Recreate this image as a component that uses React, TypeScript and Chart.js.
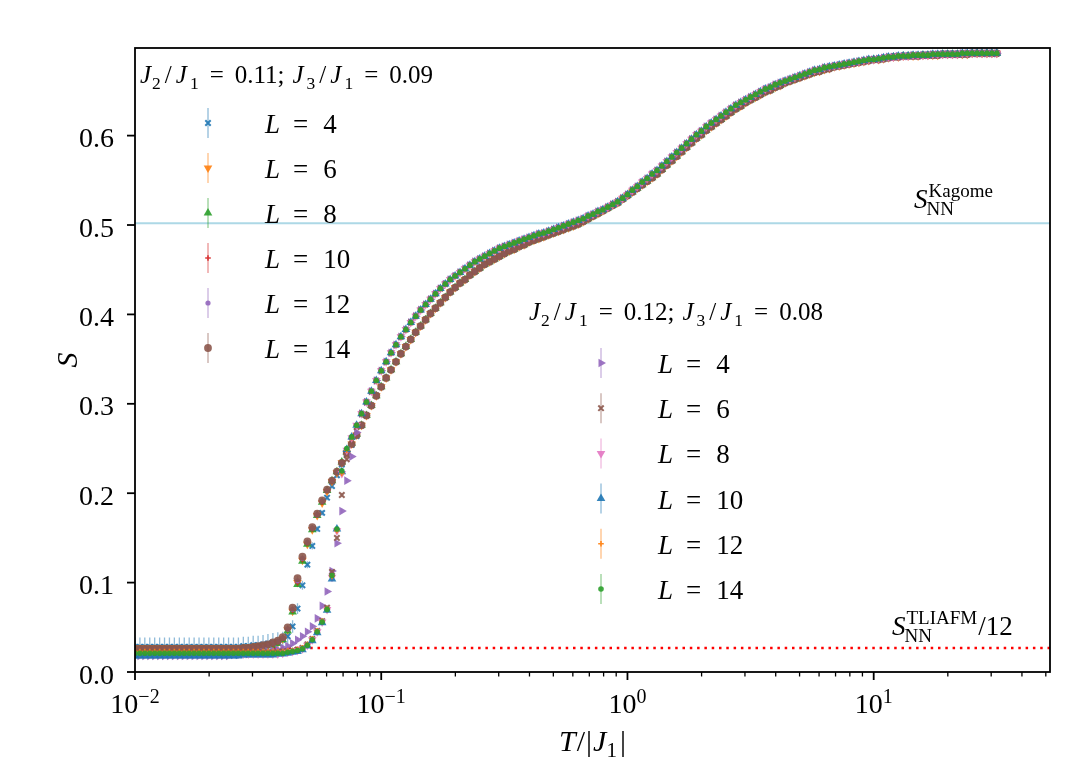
import { useEffect, useRef } from "react"
import { Chart, registerables } from "chart.js"
import { drawPoint } from "chart.js/helpers"

Chart.register(...registerables)

// T/|J1| grid shared by all runs
const temps = [
  0.01, 0.01047, 0.01096, 0.01148, 0.01202, 0.01259, 0.01318, 0.0138, 0.01445, 0.01514, 0.01585, 0.0166, 0.01738, 0.0182,
  0.01905, 0.01995, 0.02089, 0.02188, 0.02291, 0.02399, 0.02512, 0.0263, 0.02754, 0.02884, 0.0302, 0.03162, 0.03311, 0.03467,
  0.03631, 0.03802, 0.03981, 0.04169, 0.04365, 0.04571, 0.04786, 0.05012, 0.05248, 0.05495, 0.05754, 0.06026, 0.0631, 0.06607,
  0.06918, 0.07244, 0.07586, 0.07943, 0.08318, 0.0871, 0.0912, 0.0955,
  0.1, 0.1047, 0.1096, 0.1148, 0.1202, 0.1259, 0.1318, 0.138, 0.1445, 0.1514, 0.1585, 0.166, 0.1738, 0.182, 0.1905, 0.1995,
  0.2089, 0.2188, 0.2291, 0.2399, 0.2512, 0.263, 0.2754, 0.2884, 0.302, 0.3162, 0.3311, 0.3467, 0.3631, 0.3802, 0.3981, 0.4169,
  0.4365, 0.4571, 0.4786, 0.5012, 0.5248, 0.5495, 0.5754, 0.6026, 0.631, 0.6607, 0.6918, 0.7244, 0.7586, 0.7943, 0.8318, 0.871,
  0.912, 0.955,
  1, 1.047, 1.096, 1.148, 1.202, 1.259, 1.318, 1.38, 1.445, 1.514, 1.585, 1.66, 1.738, 1.82, 1.905, 1.995, 2.089, 2.188, 2.291,
  2.399, 2.512, 2.63, 2.754, 2.884, 3.02, 3.162, 3.311, 3.467, 3.631, 3.802, 3.981, 4.169, 4.365, 4.571, 4.786, 5.012, 5.248,
  5.495, 5.754, 6.026, 6.31, 6.607, 6.918, 7.244, 7.586, 7.943, 8.318, 8.71, 9.12, 9.55,
  10, 10.47, 10.96, 11.48, 12.02, 12.59, 13.18, 13.8, 14.45, 15.14, 15.85, 16.6, 17.38, 18.2, 19.05, 19.95, 20.89, 21.88, 22.91,
  23.99, 25.12, 26.3, 27.54, 28.84, 30.2, 31.62,
]

// J2/J1 = 0.11, J3/J1 = 0.09 : low-T part (first 46 temperatures, up to T = 0.0794)
const g1L4 = [
  0.028, 0.028, 0.028, 0.028, 0.028, 0.028, 0.028, 0.028, 0.028, 0.028, 0.028, 0.028, 0.028, 0.028, 0.028, 0.028, 0.028, 0.028, 0.028, 0.028,
  0.028, 0.028, 0.029, 0.029, 0.03, 0.03, 0.031, 0.032, 0.033, 0.034, 0.036, 0.04, 0.051, 0.071, 0.097, 0.12, 0.141, 0.16, 0.178, 0.195,
  0.208, 0.22, 0.232, 0.243, 0.254, 0.264,
]
const g1L6 = [
  0.027, 0.027, 0.027, 0.027, 0.027, 0.027, 0.027, 0.027, 0.027, 0.027, 0.027, 0.027, 0.027, 0.027, 0.027, 0.027, 0.027, 0.027, 0.027, 0.027,
  0.027, 0.027, 0.027, 0.028, 0.028, 0.029, 0.029, 0.03, 0.031, 0.033, 0.037, 0.047, 0.068, 0.1, 0.125, 0.143, 0.159, 0.175, 0.189, 0.202,
  0.213, 0.223, 0.234, 0.245, 0.255, 0.265,
]
const g1L8 = [
  0.025, 0.025, 0.025, 0.025, 0.025, 0.025, 0.025, 0.025, 0.025, 0.025, 0.025, 0.025, 0.025, 0.025, 0.025, 0.025, 0.025, 0.025, 0.025, 0.025,
  0.025, 0.025, 0.026, 0.026, 0.027, 0.027, 0.028, 0.029, 0.03, 0.032, 0.036, 0.046, 0.067, 0.098, 0.124, 0.143, 0.159, 0.175, 0.19, 0.203,
  0.214, 0.224, 0.235, 0.246, 0.256, 0.266,
]
const g1L10 = [
  0.026, 0.026, 0.026, 0.026, 0.026, 0.026, 0.026, 0.026, 0.026, 0.026, 0.026, 0.026, 0.026, 0.026, 0.026, 0.026, 0.026, 0.026, 0.026, 0.026,
  0.026, 0.026, 0.027, 0.027, 0.028, 0.028, 0.029, 0.03, 0.031, 0.034, 0.038, 0.048, 0.069, 0.1, 0.126, 0.144, 0.16, 0.176, 0.19, 0.203,
  0.214, 0.224, 0.234, 0.245, 0.255, 0.265,
]
const g1L12 = [
  0.025, 0.025, 0.025, 0.025, 0.025, 0.025, 0.025, 0.025, 0.025, 0.025, 0.025, 0.025, 0.025, 0.025, 0.025, 0.025, 0.025, 0.025, 0.025, 0.025,
  0.025, 0.025, 0.026, 0.026, 0.027, 0.027, 0.028, 0.03, 0.032, 0.034, 0.038, 0.048, 0.07, 0.102, 0.127, 0.145, 0.161, 0.176, 0.191, 0.203,
  0.214, 0.224, 0.234, 0.245, 0.255, 0.265,
]
const g1L14 = [
  0.026, 0.026, 0.026, 0.026, 0.026, 0.026, 0.026, 0.026, 0.026, 0.026, 0.026, 0.026, 0.026, 0.026, 0.026, 0.026, 0.026, 0.026, 0.026, 0.026,
  0.026, 0.026, 0.027, 0.027, 0.028, 0.029, 0.03, 0.031, 0.033, 0.035, 0.039, 0.05, 0.072, 0.105, 0.129, 0.146, 0.162, 0.177, 0.192, 0.204,
  0.214, 0.224, 0.234, 0.245, 0.255, 0.265,
]
const g1L4Err = [
  0.0105, 0.0105, 0.0105, 0.0105, 0.0105, 0.0105, 0.0105, 0.0105, 0.0105, 0.0105, 0.0105, 0.0105, 0.0105, 0.0105, 0.0105,
  0.0105, 0.0105, 0.0105, 0.0105, 0.0105, 0.0105, 0.0105, 0.0105, 0.0105, 0.0105, 0.0105, 0.0105, 0.0105, 0.0105, 0.0105,
  0.009, 0.008, 0.007, 0.006, 0.005, 0.004, 0.004, 0.003, 0.003, 0.003, 0.003, 0.003, 0.003, 0.003, 0.003, 0.003,
]

// J2/J1 = 0.12, J3/J1 = 0.08 : low-T part
const g2L4 = [
  0.018, 0.018, 0.018, 0.018, 0.018, 0.018, 0.018, 0.018, 0.018, 0.018, 0.018, 0.018, 0.018, 0.018, 0.018, 0.018, 0.018, 0.018, 0.018, 0.018,
  0.019, 0.019, 0.02, 0.02, 0.021, 0.021, 0.022, 0.023, 0.024, 0.025, 0.027, 0.029, 0.032, 0.036, 0.04, 0.045, 0.051, 0.06, 0.074, 0.09,
  0.113, 0.144, 0.18, 0.214, 0.241, 0.268,
]
const g2L6 = [
  0.022, 0.022, 0.022, 0.022, 0.022, 0.022, 0.022, 0.022, 0.022, 0.022, 0.022, 0.022, 0.022, 0.022, 0.022, 0.022, 0.022, 0.022, 0.022, 0.022,
  0.022, 0.022, 0.022, 0.022, 0.022, 0.022, 0.022, 0.022, 0.022, 0.022, 0.023, 0.023, 0.024, 0.025, 0.027, 0.031, 0.037, 0.046, 0.057, 0.072,
  0.112, 0.15, 0.198, 0.238, 0.258, 0.274,
]
const g2L8 = [
  0.02, 0.02, 0.02, 0.02, 0.02, 0.02, 0.02, 0.02, 0.02, 0.02, 0.02, 0.02, 0.02, 0.02, 0.02, 0.02, 0.02, 0.02, 0.02, 0.02,
  0.02, 0.02, 0.02, 0.02, 0.02, 0.02, 0.02, 0.02, 0.02, 0.02, 0.021, 0.022, 0.023, 0.024, 0.026, 0.03, 0.036, 0.045, 0.056, 0.07,
  0.106, 0.158, 0.222, 0.248, 0.262, 0.276,
]
const g2L10 = [
  0.018, 0.018, 0.018, 0.018, 0.018, 0.018, 0.018, 0.018, 0.018, 0.018, 0.018, 0.018, 0.018, 0.018, 0.018, 0.018, 0.018, 0.018, 0.018, 0.018,
  0.018, 0.018, 0.019, 0.019, 0.019, 0.019, 0.019, 0.019, 0.019, 0.02, 0.02, 0.021, 0.022, 0.023, 0.025, 0.029, 0.035, 0.044, 0.055, 0.069,
  0.104, 0.16, 0.224, 0.249, 0.263, 0.276,
]
const g2L12 = [
  0.023, 0.023, 0.023, 0.023, 0.023, 0.023, 0.023, 0.023, 0.023, 0.023, 0.023, 0.023, 0.023, 0.023, 0.023, 0.023, 0.023, 0.023, 0.023, 0.023,
  0.023, 0.023, 0.023, 0.023, 0.023, 0.023, 0.023, 0.023, 0.023, 0.023, 0.023, 0.024, 0.024, 0.025, 0.027, 0.031, 0.037, 0.046, 0.057, 0.071,
  0.107, 0.158, 0.222, 0.248, 0.262, 0.276,
]
const g2L14 = [
  0.021, 0.021, 0.021, 0.021, 0.021, 0.021, 0.021, 0.021, 0.021, 0.021, 0.021, 0.021, 0.021, 0.021, 0.021, 0.021, 0.021, 0.021, 0.021, 0.021,
  0.021, 0.021, 0.021, 0.021, 0.021, 0.021, 0.021, 0.021, 0.021, 0.021, 0.021, 0.022, 0.023, 0.024, 0.026, 0.03, 0.036, 0.045, 0.056, 0.07,
  0.108, 0.16, 0.225, 0.25, 0.263, 0.276,
]

// middle temperatures (0.083 .. 0.955), one band per coupling set
const g1Mid = [
  0.276, 0.287, 0.298, 0.309, 0.319, 0.329, 0.338, 0.347, 0.356, 0.364, 0.372, 0.38, 0.387, 0.394, 0.401, 0.407, 0.413, 0.419,
  0.425, 0.43, 0.435, 0.439, 0.444, 0.448, 0.452, 0.456, 0.459, 0.462, 0.465, 0.468, 0.471, 0.473, 0.476, 0.478, 0.481, 0.483,
  0.485, 0.487, 0.489, 0.491, 0.493, 0.495, 0.497, 0.499, 0.501, 0.504, 0.507, 0.51, 0.513, 0.516, 0.519, 0.522, 0.525, 0.529,
]
const g2Mid = [
  0.289, 0.302, 0.314, 0.326, 0.337, 0.347, 0.357, 0.366, 0.375, 0.383, 0.391, 0.398, 0.405, 0.411, 0.417, 0.423, 0.429, 0.434,
  0.439, 0.443, 0.447, 0.451, 0.455, 0.459, 0.462, 0.465, 0.468, 0.471, 0.474, 0.476, 0.478, 0.48, 0.482, 0.484, 0.486, 0.488,
  0.49, 0.491, 0.493, 0.495, 0.497, 0.499, 0.501, 0.503, 0.505, 0.507, 0.51, 0.512, 0.515, 0.517, 0.52, 0.523, 0.526, 0.53,
]

// high temperatures (1 .. 31.6)
const g1Tail = [
  0.533, 0.537, 0.541, 0.545, 0.549, 0.553, 0.557, 0.562, 0.567, 0.572, 0.577, 0.582, 0.587, 0.592, 0.597, 0.601, 0.606, 0.61, 0.614,
  0.618, 0.622, 0.626, 0.63, 0.633, 0.637, 0.64, 0.643, 0.646, 0.649, 0.651, 0.654, 0.656, 0.659, 0.661, 0.663, 0.665, 0.667, 0.669,
  0.671, 0.672, 0.674, 0.675, 0.677, 0.678, 0.679, 0.68, 0.681, 0.682, 0.683, 0.684, 0.685, 0.685, 0.686, 0.687, 0.688, 0.688, 0.689,
  0.689, 0.689, 0.689, 0.69, 0.69, 0.69, 0.69, 0.691, 0.691, 0.691, 0.691, 0.691, 0.691, 0.692, 0.692, 0.692, 0.692, 0.692, 0.692,
]
const g2Tail = [
  0.534, 0.539, 0.543, 0.548, 0.552, 0.557, 0.561, 0.566, 0.571, 0.576, 0.581, 0.586, 0.591, 0.596, 0.601, 0.605, 0.61, 0.614, 0.618,
  0.622, 0.626, 0.63, 0.634, 0.637, 0.64, 0.643, 0.646, 0.649, 0.652, 0.654, 0.657, 0.659, 0.661, 0.663, 0.665, 0.667, 0.669, 0.671,
  0.673, 0.674, 0.676, 0.677, 0.678, 0.679, 0.68, 0.681, 0.682, 0.683, 0.684, 0.685, 0.685, 0.686, 0.687, 0.688, 0.688, 0.689, 0.689,
  0.689, 0.69, 0.69, 0.69, 0.69, 0.691, 0.691, 0.691, 0.691, 0.691, 0.691, 0.692, 0.692, 0.692, 0.692, 0.692, 0.692, 0.692, 0.692,
]

const sizes = [4, 6, 8, 10, 12, 14]
const couplings = [["0.11", "0.09"], ["0.12", "0.08"]]
const sKagome = 0.50183
const sTliafm12 = 0.02694
const xMajor = [0.01, 0.1, 1, 10]
const yMajor = [0, 0.1, 0.2, 0.3, 0.4, 0.5, 0.6]

const FONT = '"Liberation Serif", "DejaVu Serif", serif'

const C = {
  blue: "31,119,180",
  orange: "255,127,14",
  green: "44,160,44",
  red: "214,39,40",
  purple: "148,103,189",
  brown: "140,86,75",
  pink: "227,119,194",
}

type Marker = { rgb: string; pointStyle: string; rotation: number; radius: number; borderWidth: number }

const markers: Marker[] = [
  { rgb: C.blue, pointStyle: "crossRot", rotation: 0, radius: 3.8, borderWidth: 2 },
  { rgb: C.orange, pointStyle: "triangle", rotation: 180, radius: 5, borderWidth: 0 },
  { rgb: C.green, pointStyle: "triangle", rotation: 0, radius: 5, borderWidth: 0 },
  { rgb: C.red, pointStyle: "cross", rotation: 0, radius: 2.8, borderWidth: 1.6 },
  { rgb: C.purple, pointStyle: "circle", rotation: 0, radius: 2.6, borderWidth: 0 },
  { rgb: C.brown, pointStyle: "circle", rotation: 0, radius: 3.9, borderWidth: 0 },
  { rgb: C.purple, pointStyle: "triangle", rotation: 90, radius: 5, borderWidth: 0 },
  { rgb: C.brown, pointStyle: "crossRot", rotation: 0, radius: 3.8, borderWidth: 2 },
  { rgb: C.pink, pointStyle: "triangle", rotation: 180, radius: 5, borderWidth: 0 },
  { rgb: C.blue, pointStyle: "triangle", rotation: 0, radius: 5, borderWidth: 0 },
  { rgb: C.orange, pointStyle: "cross", rotation: 0, radius: 2.8, borderWidth: 1.6 },
  { rgb: C.green, pointStyle: "circle", rotation: 0, radius: 2.8, borderWidth: 0 },
]

const lows = [g1L4, g1L6, g1L8, g1L10, g1L12, g1L14, g2L4, g2L6, g2L8, g2L10, g2L12, g2L14]

const series = lows.map((low, i) => {
  const g = i < 6 ? 0 : 1
  const values = [...low, ...(g === 0 ? g1Mid : g2Mid), ...(g === 0 ? g1Tail : g2Tail)]
  const errs = values.map((_, j) => (i === 0 && j < g1L4Err.length ? g1L4Err[j] : 0.0025))
  return { values, errs, marker: markers[i] }
})

type Part = { t: string; s: number; it?: boolean; dy?: number; gap?: number }

function setFont(ctx: CanvasRenderingContext2D, p: Part) {
  ctx.font = `${p.it ? "italic " : ""}${p.s}px ${FONT}`
}

function measure(ctx: CanvasRenderingContext2D, parts: Part[]) {
  let w = 0
  for (const p of parts) {
    setFont(ctx, p)
    w += (p.gap || 0) + ctx.measureText(p.t).width
  }
  return w
}

function drawParts(ctx: CanvasRenderingContext2D, x: number, y: number, parts: Part[], align = "left") {
  let cx = x
  if (align === "center") cx -= measure(ctx, parts) / 2
  if (align === "right") cx -= measure(ctx, parts)
  ctx.textAlign = "left"
  ctx.textBaseline = "alphabetic"
  for (const p of parts) {
    cx += p.gap || 0
    setFont(ctx, p)
    ctx.fillText(p.t, cx, y + (p.dy || 0))
    cx += ctx.measureText(p.t).width
  }
  return cx
}

function ratioTitle(j2: string, j3: string): Part[] {
  const s = 25
  const sub = 17.5
  const d = 5.5
  return [
    { t: "J", s, it: true },
    { t: "2", s: sub, dy: d, gap: 1 },
    { t: "/", s, gap: 4 },
    { t: "J", s, it: true, gap: 4 },
    { t: "1", s: sub, dy: d, gap: 3 },
    { t: "=", s, gap: 11 },
    { t: j2 + ";", s, gap: 11 },
    { t: "J", s, it: true, gap: 8 },
    { t: "3", s: sub, dy: d, gap: 3 },
    { t: "/", s, gap: 4 },
    { t: "J", s, it: true, gap: 4 },
    { t: "1", s: sub, dy: d, gap: 3 },
    { t: "=", s, gap: 11 },
    { t: j3, s, gap: 11 },
  ]
}

function drawEntropy(ctx: CanvasRenderingContext2D, x: number, y: number, sup: string) {
  const endS = drawParts(ctx, x, y, [{ t: "S", s: 27, it: true }])
  ctx.font = `19px ${FONT}`
  ctx.fillText(sup, endS + 1, y - 11)
  ctx.fillText("NN", endS - 1, y + 7)
  return endS + 1 + Math.max(ctx.measureText(sup).width, ctx.measureText("NN").width)
}

function drawMarker(ctx: CanvasRenderingContext2D, m: Marker, x: number, y: number) {
  ctx.fillStyle = `rgba(${m.rgb},0.9)`
  ctx.strokeStyle = `rgba(${m.rgb},0.9)`
  ctx.lineWidth = m.borderWidth
  drawPoint(ctx, { pointStyle: m.pointStyle as any, rotation: m.rotation, radius: m.radius, borderWidth: m.borderWidth }, x, y)
}

const overlay = {
  id: "overlay",
  beforeDatasetsDraw(chart: any) {
    const { ctx, chartArea: a } = chart
    const xs = chart.scales.x
    const ys = chart.scales.y
    ctx.save()
    ctx.beginPath()
    ctx.rect(a.left, a.top, a.right - a.left, a.bottom - a.top)
    ctx.clip()

    ctx.strokeStyle = "#add8e6"
    ctx.lineWidth = 2
    const yk = ys.getPixelForValue(sKagome)
    ctx.beginPath()
    ctx.moveTo(a.left, yk)
    ctx.lineTo(a.right, yk)
    ctx.stroke()

    ctx.strokeStyle = "red"
    ctx.lineWidth = 2.5
    ctx.setLineDash([2.5, 4.8])
    const yt = ys.getPixelForValue(sTliafm12)
    ctx.beginPath()
    ctx.moveTo(a.left, yt)
    ctx.lineTo(a.right, yt)
    ctx.stroke()
    ctx.setLineDash([])

    ctx.lineWidth = 1.3
    series.forEach((s) => {
      ctx.strokeStyle = `rgba(${s.marker.rgb},0.5)`
      ctx.beginPath()
      s.values.forEach((v, j) => {
        const px = xs.getPixelForValue(temps[j])
        ctx.moveTo(px, ys.getPixelForValue(v - s.errs[j]))
        ctx.lineTo(px, ys.getPixelForValue(v + s.errs[j]))
      })
      ctx.stroke()
    })
    ctx.restore()
  },
  afterDraw(chart: any) {
    const { ctx, chartArea: a } = chart
    const xs = chart.scales.x
    const ys = chart.scales.y
    ctx.save()
    ctx.fillStyle = "#000"
    ctx.strokeStyle = "#000"

    // frame
    ctx.lineWidth = 1.8
    ctx.strokeRect(a.left, a.top, a.right - a.left, a.bottom - a.top)

    // x ticks
    for (let d = 0.01; d < 60; d *= 10) {
      for (let m = 1; m < 10; m++) {
        const v = d * m
        if (v > 52) break
        const px = xs.getPixelForValue(v)
        const major = m === 1
        ctx.lineWidth = major ? 1.8 : 1.3
        ctx.beginPath()
        ctx.moveTo(px, a.bottom)
        ctx.lineTo(px, a.bottom + (major ? 8 : 4.5))
        ctx.stroke()
      }
    }
    xMajor.forEach((v) => {
      const e = Math.round(Math.log10(v))
      const exp = e < 0 ? "\u2212" + -e : String(e)
      ctx.fillStyle = "#000"
      drawParts(ctx, xs.getPixelForValue(v), 713, [{ t: "10", s: 28 }, { t: exp, s: 20, dy: -10 }], "center")
    })

    // y ticks
    yMajor.forEach((v) => {
      const py = ys.getPixelForValue(v)
      ctx.lineWidth = 1.8
      ctx.beginPath()
      ctx.moveTo(a.left - 8, py)
      ctx.lineTo(a.left, py)
      ctx.stroke()
      drawParts(ctx, 114, py + 11.5, [{ t: v.toFixed(1), s: 28 }], "right")
    })

    // axis labels
    drawParts(
      ctx,
      (a.left + a.right) / 2,
      751,
      [
        { t: "T", s: 30, it: true },
        { t: "/", s: 30, gap: 1 },
        { t: "|", s: 30, gap: 1 },
        { t: "J", s: 30, it: true, gap: 1 },
        { t: "1", s: 21, dy: 6 },
        { t: "|", s: 30, gap: 3 },
      ],
      "center"
    )
    ctx.save()
    ctx.translate(77, (a.top + a.bottom) / 2)
    ctx.rotate(-Math.PI / 2)
    ctx.font = `italic 30px ${FONT}`
    ctx.textAlign = "center"
    ctx.textBaseline = "alphabetic"
    ctx.fillText("S", 0, 0)
    ctx.restore()

    // reference lines' labels
    drawEntropy(ctx, 914, 208, "Kagome")
    const end = drawEntropy(ctx, 892, 635, "TLIAFM")
    drawParts(ctx, end + 1, 635, [{ t: "/12", s: 27 }])

    // legends
    const legends = [
      { tx: 140, ty: 83, mx: 208, lx: 265, y0: 123, dy: 45 },
      { tx: 529, ty: 320, mx: 601, lx: 658, y0: 363, dy: 45.2 },
    ]
    legends.forEach((lg, g) => {
      ctx.fillStyle = "#000"
      drawParts(ctx, lg.tx, lg.ty, ratioTitle(couplings[g][0], couplings[g][1]))
      sizes.forEach((L, r) => {
        const m = markers[g * 6 + r]
        const ry = lg.y0 + r * lg.dy
        ctx.strokeStyle = `rgba(${m.rgb},0.5)`
        ctx.lineWidth = 1.3
        ctx.beginPath()
        ctx.moveTo(lg.mx, ry - 15)
        ctx.lineTo(lg.mx, ry + 15)
        ctx.stroke()
        drawMarker(ctx, m, lg.mx, ry)
        ctx.fillStyle = "#000"
        drawParts(ctx, lg.lx, ry + 10, [
          { t: "L", s: 27, it: true },
          { t: "=", s: 27, gap: 13 },
          { t: String(L), s: 27, gap: 15 },
        ])
      })
    })
    ctx.restore()
  },
}

export default function App() {
  const canvasRef = useRef<HTMLCanvasElement>(null)
  const chartRef = useRef<Chart | null>(null)

  useEffect(() => {
    document.body.style.margin = "0"
    if (!canvasRef.current) return
    if (chartRef.current) chartRef.current.destroy()

    const datasets = series.map((s, i) => ({
      data: s.values.map((v, j) => ({ x: temps[j], y: v })),
      showLine: false,
      order: series.length - 1 - i,
      pointStyle: s.marker.pointStyle as any,
      pointRotation: s.marker.rotation,
      pointRadius: s.marker.radius,
      pointBorderWidth: s.marker.borderWidth,
      pointBackgroundColor: `rgba(${s.marker.rgb},0.9)`,
      pointBorderColor: `rgba(${s.marker.rgb},0.9)`,
    }))

    chartRef.current = new Chart(canvasRef.current, {
      type: "scatter",
      data: { datasets },
      options: {
        animation: false,
        responsive: false,
        devicePixelRatio: 1,
        events: [],
        layout: { padding: { top: 48, right: 31, left: 0, bottom: 0 } },
        plugins: { legend: { display: false }, tooltip: { enabled: false } },
        scales: {
          x: {
            type: "logarithmic",
            min: 0.01,
            max: 52,
            ticks: { display: false },
            grid: { display: false },
            border: { display: false },
            afterFit: (s: any) => {
              s.height = 98
            },
          },
          y: {
            type: "linear",
            min: 0,
            max: 0.698,
            ticks: { display: false },
            grid: { display: false },
            border: { display: false },
            afterFit: (s: any) => {
              s.width = 135
            },
          },
        },
      },
      plugins: [overlay],
    })

    return () => {
      if (chartRef.current) {
        chartRef.current.destroy()
        chartRef.current = null
      }
    }
  }, [])

  return (
    <div style={{ position: "relative", width: 1081, height: 770, background: "#fff" }}>
      <canvas ref={canvasRef} width={1081} height={770} style={{ display: "block", width: 1081, height: 770 }} />
    </div>
  )
}
